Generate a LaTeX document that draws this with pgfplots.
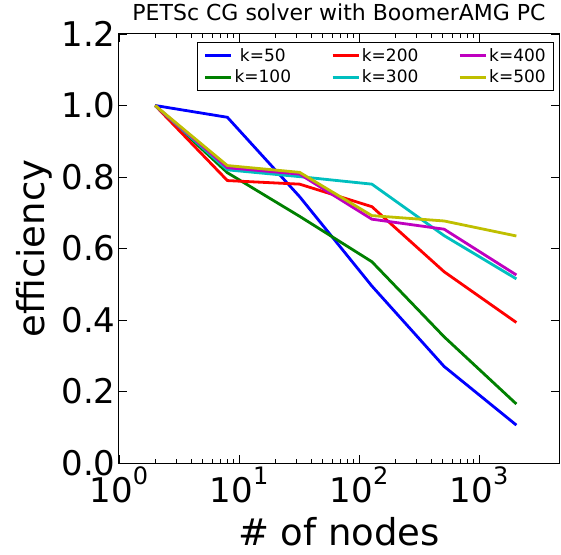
\documentclass[border=0pt]{standalone}
\usepackage{pgfplots}
\pgfplotsset{compat=1.18}
\usepackage{fontspec}
\setmainfont{DejaVu Sans}
\definecolor{mblue}{rgb}{0,0,1}
\definecolor{mgreen}{rgb}{0,0.5,0}
\definecolor{mred}{rgb}{1,0,0}
\definecolor{mcyan}{rgb}{0,0.75,0.75}
\definecolor{mmag}{rgb}{0.75,0,0.75}
\definecolor{myel}{rgb}{0.75,0.75,0}
\newcommand{\tp}[1]{10\raisebox{18bp}{\fontsize{24bp}{24bp}\selectfont #1}}
\begin{document}
\begin{tikzpicture}
\begin{axis}[
  name=ax,
  scale only axis, width=440bp, height=429bp,
  xmode=log, xmin=1, xmax=4640, ymin=0, ymax=1.2,
  xtick={1,10,100,1000},
  xticklabels={\tp{0},\tp{1},\tp{2},\tp{3}},
  ytick={0,0.2,0.4,0.6,0.8,1.0,1.2},
  yticklabels={0.0,0.2,0.4,0.6,0.8,1.0,1.2},
  tick label style={font=\fontsize{34bp}{34bp}\selectfont},
  tick align=inside, major tick length=8bp, minor tick length=4bp,
  tick style={black, line width=0.8bp},
  axis line style={line width=1bp},
  xlabel={\# of nodes}, ylabel={efficiency},
  label style={font=\fontsize{37bp}{37bp}\selectfont},
  xlabel style={at={(axis description cs:0.5,0)}, anchor=base, yshift=-82bp, inner sep=0pt},
  ylabel style={at={(axis description cs:0,0.5)}, anchor=south, inner sep=0pt, yshift=67bp},
  title={PETSc CG solver with BoomerAMG PC},
  title style={font=\fontsize{22bp}{22bp}\selectfont, at={(axis description cs:0.5,1)}, anchor=base, yshift=8bp, inner sep=0pt},
  legend columns=2, transpose legend,
  legend style={at={(axis description cs:0.989,0.981)}, anchor=north east,
    font=\fontsize{17bp}{17bp}\selectfont, draw=black, line width=0.8bp,
    /tikz/every even column/.append style={column sep=38bp},
    row sep=3bp, inner xsep=6bp, inner ysep=4bp},
  legend image code/.code={\draw[#1] (0bp,0bp) -- (26bp,0bp);},
  every axis plot/.append style={line width=2.8bp},
]
\addplot[mblue] coordinates {(2,1.0) (8,0.967) (32,0.745) (128,0.495) (512,0.27) (2048,0.106)};
\addlegendentry{k=50}
\addplot[mgreen] coordinates {(2,1.0) (8,0.812) (32,0.69) (128,0.563) (512,0.353) (2048,0.165)};
\addlegendentry{k=100}
\addplot[mred] coordinates {(2,1.0) (8,0.790) (32,0.780) (128,0.717) (512,0.535) (2048,0.393)};
\addlegendentry{k=200}
\addplot[mcyan] coordinates {(2,1.0) (8,0.820) (32,0.801) (128,0.780) (512,0.636) (2048,0.515)};
\addlegendentry{k=300}
\addplot[mmag] coordinates {(2,1.0) (8,0.826) (32,0.808) (128,0.682) (512,0.654) (2048,0.526)};
\addlegendentry{k=400}
\addplot[myel] coordinates {(2,1.0) (8,0.832) (32,0.813) (128,0.692) (512,0.677) (2048,0.635)};
\addlegendentry{k=500}
\end{axis}
\pgfresetboundingbox
\path[use as bounding box] ([shift={(-119bp,-92bp)}]ax.south west) rectangle ([shift={(2bp,34bp)}]ax.north east);
\end{tikzpicture}
\end{document}
